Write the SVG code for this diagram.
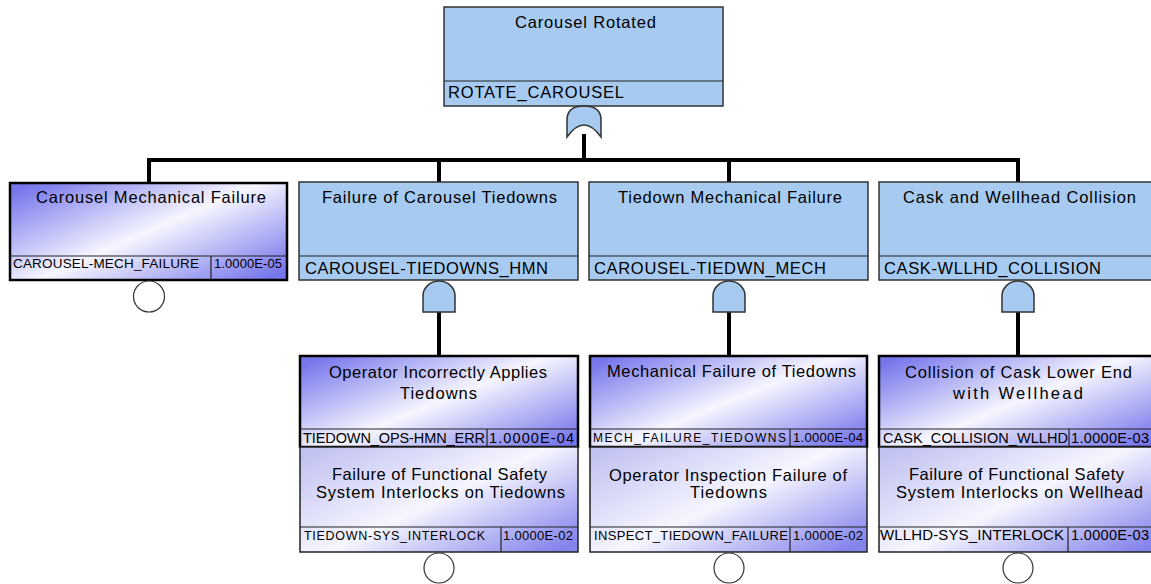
<svg xmlns="http://www.w3.org/2000/svg" width="1151" height="584" viewBox="0 0 1151 584">
<style>
.t{font-family:"Liberation Sans",Arial,sans-serif;fill:#000;font-size:16.5px}
.gate{fill:#a6caf0;stroke:#333;stroke-width:1.5}
.ev1{fill:url(#g1);stroke:#000;stroke-width:2.5}
.ev2{fill:url(#g2);stroke:#222;stroke-width:1.5}
.dv{stroke:#222;stroke-width:1.2}
.conn{stroke:#000;stroke-width:4;fill:none}
.circ{fill:#fff;stroke:#333;stroke-width:1.2}
</style>
<defs>
<linearGradient id="g1" x1="0" y1="0.1" x2="1" y2="0.9">
<stop offset="0" stop-color="#7676ec"/>
<stop offset="0.5" stop-color="#f6f6ff"/>
<stop offset="1" stop-color="#7676ec"/>
</linearGradient>
<linearGradient id="g2" x1="0" y1="0.1" x2="1" y2="0.9">
<stop offset="0" stop-color="#c2c2f2"/>
<stop offset="0.5" stop-color="#f6f6ff"/>
<stop offset="1" stop-color="#8383ec"/>
</linearGradient>
</defs>

<g id="connectors">
<path class="conn" d="M584,134 V160 M149,160 H1018 M149,158 V183 M439,158 V182 M729,158 V182 M1018,158 V182"/>
<path class="conn" d="M439,311 V356 M729,311 V356 M1018,311 V356"/>
</g>

<g id="n-rotate-carousel">
<rect class="gate" x="444" y="7" width="279" height="99"/>
<line class="dv" x1="444" y1="81" x2="723" y2="81"/>
<text class="t" x="515" y="28" textLength="141" lengthAdjust="spacing">Carousel Rotated</text>
<text class="t" x="448" y="98" textLength="176" lengthAdjust="spacing">ROTATE_CAROUSEL</text>
<path class="gate" d="M567,137 V120 Q567,106 584,106 Q601,106 601,120 V137 Q584,113 567,137 Z"/>
</g>

<g id="n-carousel-mech-failure">
<rect class="ev1" x="10" y="183" width="277" height="97"/>
<line class="dv" x1="10" y1="256" x2="287" y2="256"/>
<line class="dv" x1="211" y1="256" x2="211" y2="280"/>
<text class="t" x="36" y="203" textLength="230" lengthAdjust="spacing">Carousel Mechanical Failure</text>
<text class="t" x="13" y="268" style="font-size:13.5px" textLength="186" lengthAdjust="spacing">CAROUSEL-MECH_FAILURE</text>
<text class="t" x="214" y="268" style="font-size:13px" textLength="68" lengthAdjust="spacing">1.0000E-05</text>
<circle class="circ" cx="149" cy="296.5" r="15.5"/>
</g>

<g id="n-carousel-tiedowns-hmn">
<rect class="gate" x="299" y="182" width="279" height="98"/>
<line class="dv" x1="299" y1="256" x2="578" y2="256"/>
<text class="t" x="322" y="203" textLength="235" lengthAdjust="spacing">Failure of Carousel Tiedowns</text>
<text class="t" x="305" y="274" textLength="243" lengthAdjust="spacing">CAROUSEL-TIEDOWNS_HMN</text>
<path class="gate" d="M423,312 V296 A16,15 0 0 1 455,296 V312 Z"/>
</g>

<g id="n-carousel-tiedwn-mech">
<rect class="gate" x="589" y="182" width="279" height="98"/>
<line class="dv" x1="589" y1="256" x2="868" y2="256"/>
<text class="t" x="618" y="203" textLength="224" lengthAdjust="spacing">Tiedown Mechanical Failure</text>
<text class="t" x="594" y="274" textLength="232" lengthAdjust="spacing">CAROUSEL-TIEDWN_MECH</text>
<path class="gate" d="M713,312 V296 A16,15 0 0 1 745,296 V312 Z"/>
</g>

<g id="n-cask-wllhd-collision">
<rect class="gate" x="879" y="182" width="279" height="98"/>
<line class="dv" x1="879" y1="256" x2="1158" y2="256"/>
<text class="t" x="903" y="203" textLength="233" lengthAdjust="spacing">Cask and Wellhead Collision</text>
<text class="t" x="884" y="274" textLength="217" lengthAdjust="spacing">CASK-WLLHD_COLLISION</text>
<path class="gate" d="M1002,312 V296 A16,15 0 0 1 1034,296 V312 Z"/>
</g>

<g id="n-tiedown-ops-hmn-err">
<rect class="ev1" x="300" y="356" width="278" height="91"/>
<line class="dv" x1="300" y1="429" x2="578" y2="429"/>
<line class="dv" x1="487" y1="429" x2="487" y2="447"/>
<text class="t" x="329" y="378" textLength="218" lengthAdjust="spacing">Operator Incorrectly Applies</text>
<text class="t" x="400" y="399" textLength="77" lengthAdjust="spacing">Tiedowns</text>
<text class="t" x="303" y="443" style="font-size:14.5px" textLength="182" lengthAdjust="spacing">TIEDOWN_OPS-HMN_ERR</text>
<text class="t" x="489" y="443" style="font-size:14.5px" textLength="85" lengthAdjust="spacing">1.0000E-04</text>
</g>

<g id="n-tiedown-sys-interlock">
<rect class="ev2" x="300" y="447" width="278" height="105"/>
<line class="dv" x1="300" y1="527" x2="578" y2="527"/>
<line class="dv" x1="501" y1="527" x2="501" y2="552"/>
<text class="t" x="332" y="480" textLength="215" lengthAdjust="spacing">Failure of Functional Safety</text>
<text class="t" x="316" y="498" textLength="249" lengthAdjust="spacing">System Interlocks on Tiedowns</text>
<text class="t" x="304" y="540" style="font-size:12.5px" textLength="181" lengthAdjust="spacing">TIEDOWN-SYS_INTERLOCK</text>
<text class="t" x="503" y="540" style="font-size:13px" textLength="70" lengthAdjust="spacing">1.0000E-02</text>
<circle class="circ" cx="439" cy="568" r="15"/>
</g>

<g id="n-mech-failure-tiedowns">
<rect class="ev1" x="590" y="356" width="277" height="91"/>
<line class="dv" x1="590" y1="429" x2="867" y2="429"/>
<line class="dv" x1="790" y1="429" x2="790" y2="447"/>
<text class="t" x="607" y="377" textLength="249" lengthAdjust="spacing">Mechanical Failure of Tiedowns</text>
<text class="t" x="593" y="442" style="font-size:12px" textLength="193" lengthAdjust="spacing">MECH_FAILURE_TIEDOWNS</text>
<text class="t" x="793" y="442" style="font-size:13px" textLength="70" lengthAdjust="spacing">1.0000E-04</text>
</g>

<g id="n-inspect-tiedown-failure">
<rect class="ev2" x="590" y="447" width="277" height="105"/>
<line class="dv" x1="590" y1="527" x2="867" y2="527"/>
<line class="dv" x1="790" y1="527" x2="790" y2="552"/>
<text class="t" x="609" y="481" textLength="238" lengthAdjust="spacing">Operator Inspection Failure of</text>
<text class="t" x="690" y="498" textLength="77" lengthAdjust="spacing">Tiedowns</text>
<text class="t" x="594" y="540" style="font-size:13px" textLength="194" lengthAdjust="spacing">INSPECT_TIEDOWN_FAILURE</text>
<text class="t" x="793" y="540" style="font-size:13px" textLength="70" lengthAdjust="spacing">1.0000E-02</text>
<circle class="circ" cx="729" cy="568" r="15"/>
</g>

<g id="n-cask-collision-wllhd">
<rect class="ev1" x="879" y="356" width="279" height="91"/>
<line class="dv" x1="879" y1="429" x2="1158" y2="429"/>
<line class="dv" x1="1069" y1="429" x2="1069" y2="447"/>
<text class="t" x="905" y="378" textLength="227" lengthAdjust="spacing">Collision of Cask Lower End</text>
<text class="t" x="953" y="399" textLength="130" lengthAdjust="spacing">with Wellhead</text>
<text class="t" x="883" y="443" style="font-size:14.5px" textLength="185" lengthAdjust="spacing">CASK_COLLISION_WLLHD</text>
<text class="t" x="1071" y="443" style="font-size:14.5px" textLength="78" lengthAdjust="spacing">1.0000E-03</text>
</g>

<g id="n-wllhd-sys-interlock">
<rect class="ev2" x="879" y="447" width="279" height="105"/>
<line class="dv" x1="879" y1="527" x2="1158" y2="527"/>
<line class="dv" x1="1068" y1="527" x2="1068" y2="552"/>
<text class="t" x="909" y="480" textLength="215" lengthAdjust="spacing">Failure of Functional Safety</text>
<text class="t" x="896" y="498" textLength="247" lengthAdjust="spacing">System Interlocks on Wellhead</text>
<text class="t" x="880" y="540" style="font-size:15px" textLength="184" lengthAdjust="spacing">WLLHD-SYS_INTERLOCK</text>
<text class="t" x="1071" y="540" style="font-size:14.5px" textLength="78" lengthAdjust="spacing">1.0000E-03</text>
<circle class="circ" cx="1018" cy="568" r="15"/>
</g>
</svg>
